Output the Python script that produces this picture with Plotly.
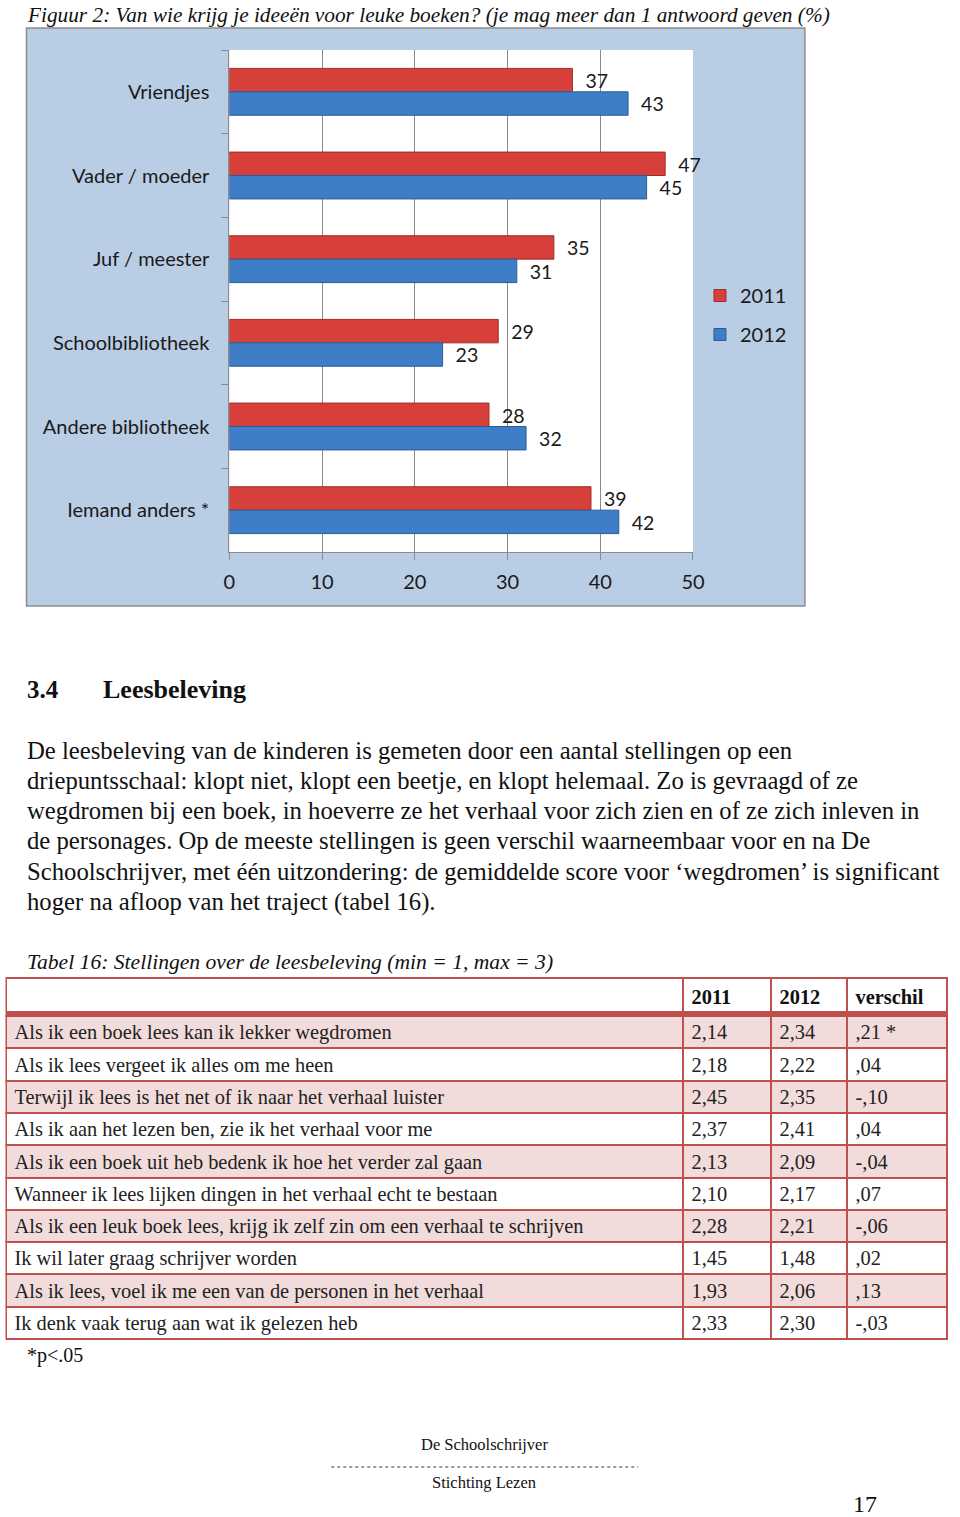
import plotly.graph_objects as go

W, H = 960, 1517

# data figuur 2
bronnen = ["Vriendjes", "Vader / moeder", "Juf / meester", "Schoolbibliotheek",
           "Andere bibliotheek", "Iemand anders *"]
perc_2011 = [37, 47, 35, 29, 28, 39]
perc_2012 = [43, 45, 31, 23, 32, 42]
x_ticks = [0, 10, 20, 30, 40, 50]

# data tabel 16
stellingen = [
    "Als ik een boek lees kan ik lekker wegdromen",
    "Als ik lees vergeet ik alles om me heen",
    "Terwijl ik lees is het net of ik naar het verhaal luister",
    "Als ik aan het lezen ben, zie ik het verhaal voor me",
    "Als ik een boek uit heb bedenk ik hoe het verder zal gaan",
    "Wanneer ik lees lijken dingen in het verhaal echt te bestaan",
    "Als ik een leuk boek lees, krijg ik zelf zin om een verhaal te schrijven",
    "Ik wil later graag schrijver worden",
    "Als ik lees, voel ik me een van de personen in het verhaal",
    "Ik denk vaak terug aan wat ik gelezen heb",
]
score_2011 = [2.14, 2.18, 2.45, 2.37, 2.13, 2.10, 2.28, 1.45, 1.93, 2.33]
score_2012 = [2.34, 2.22, 2.35, 2.41, 2.09, 2.17, 2.21, 1.48, 2.06, 2.30]
verschil = [0.21, 0.04, -0.10, 0.04, -0.04, 0.07, -0.06, 0.02, 0.13, -0.03]
significant = [True, False, False, False, False, False, False, False, False, False]

paragraaf = [
    "De leesbeleving van de kinderen is gemeten door een aantal stellingen op een",
    "driepuntsschaal: klopt niet, klopt een beetje, en klopt helemaal. Zo is gevraagd of ze",
    "wegdromen bij een boek, in hoeverre ze het verhaal voor zich zien en of ze zich inleven in",
    "de personages. Op de meeste stellingen is geen verschil waarneembaar voor en na De",
    "Schoolschrijver, met één uitzondering: de gemiddelde score voor ‘wegdromen’ is significant",
    "hoger na afloop van het traject (tabel 16).",
]

SANS = "Lato"
SERIF = "Liberation Serif"
RED = "#d63f3a"
BLUE = "#3d7ec7"
ROSE = "#c0504d"


def px(x):
    # gemeten pixelpositie -> paper-coordinaat (kleine horizontale correctie)
    return min(max((x - 5.5) / 0.982 / W, 0), 1)


def py(y):
    return min(max(1 - y / H, 0), 1)


def komma(v):
    return f"{v:.2f}".replace(".", ",")


def verschil_txt(v, sig):
    s = f"{abs(v):.2f}".replace("0.", ",")
    if v < 0:
        s = "-" + s
    if sig:
        s += " *"
    return s


fig = go.Figure()

fig.add_trace(go.Bar(
    name="2011", legendgroup="a", y=bronnen, x=perc_2011, orientation="h",
    marker=dict(color=RED, line=dict(color="#a02c28", width=1)),
    text=perc_2011, textposition="outside", texttemplate="  %{x}",
    textfont=dict(family=SANS, size=20, color="#1a1a1a"), cliponaxis=False,
))
fig.add_trace(go.Bar(
    name="2012", legendgroup="b", y=bronnen, x=perc_2012, orientation="h",
    marker=dict(color=BLUE, line=dict(color="#2b5c96", width=1)),
    text=perc_2012, textposition="outside", texttemplate="  %{x}",
    textfont=dict(family=SANS, size=20, color="#1a1a1a"), cliponaxis=False,
))

# tabel
rij_kleur = ["#f2dcdb" if i % 2 == 0 else "white" for i in range(len(stellingen))]
fig.add_trace(go.Table(
    domain=dict(x=[px(6), px(954)], y=[0, py(978)]),
    columnwidth=[677, 88, 76, 100],
    header=dict(
        values=["", "<b>2011</b>", "<b>2012</b>", "<b>verschil</b>"],
        fill_color="white", line=dict(color=ROSE, width=2),
        font=dict(family=SERIF, size=20.4, color="#111"), align="left", height=35,
    ),
    cells=dict(
        values=[stellingen,
                [komma(v) for v in score_2011],
                [komma(v) for v in score_2012],
                [verschil_txt(v, s) for v, s in zip(verschil, significant)]],
        fill_color=[rij_kleur] * 4, line=dict(color=ROSE, width=2),
        font=dict(family=SERIF, size=20.4, color="#222"), align="left", height=32.3,
    ),
))

fig.update_layout(
    width=W, height=H,
    margin=dict(l=0, r=0, t=0, b=0),
    paper_bgcolor="white", plot_bgcolor="white",
    barmode="group", bargap=0.44, bargroupgap=0.0,
    showlegend=True,
    legend=dict(x=px(700), y=py(276), xanchor="left", yanchor="top",
                bgcolor="rgba(0,0,0,0)", font=dict(family=SANS, size=20, color="#1a1a1a"),
                itemwidth=30, tracegroupgap=10),
    xaxis=dict(domain=[px(229), px(693)], range=[0, 50], tickvals=x_ticks,
               showgrid=True, gridcolor="#8a8a8a", gridwidth=1,
               showline=True, linecolor="#8a8a8a", ticks="outside", ticklen=7,
               tickcolor="#8a8a8a", zeroline=False,
               tickfont=dict(family=SANS, size=20, color="#1a1a1a"), ticklabelstandoff=5),
    yaxis=dict(domain=[py(552), py(50)], autorange="reversed",
               showline=True, linecolor="#8a8a8a", ticks="outside", ticklen=7,
               tickcolor="#8a8a8a", tickson="boundaries", showgrid=False,
               tickfont=dict(family=SANS, size=20, color="#1a1a1a"), ticklabelstandoff=15),
)

# blauw grafiekpaneel
fig.add_shape(type="rect", xref="paper", yref="paper",
              x0=px(26), x1=px(805), y0=py(606), y1=py(28),
              fillcolor="#b9cde5", line=dict(color="#8c8c8c", width=1.5), layer="below")
fig.add_shape(type="rect", xref="paper", yref="paper",
              x0=px(229), x1=px(693), y0=py(552), y1=py(50),
              fillcolor="white", line=dict(width=0), layer="below")

# dikke lijn onder tabelkop
fig.add_shape(type="line", xref="paper", yref="paper",
              x0=px(6), x1=px(954), y0=py(1013), y1=py(1013),
              line=dict(color=ROSE, width=4))
# stippellijn voettekst
fig.add_shape(type="line", xref="paper", yref="paper",
              x0=px(331), x1=px(638), y0=py(1467), y1=py(1467),
              line=dict(color="#333", width=1, dash="dot"))


def tekst(x, y, s, size, family=SERIF, anchor="left", color="#111"):
    fig.add_annotation(x=px(x), y=py(y), xref="paper", yref="paper", text=s,
                       showarrow=False, xanchor=anchor, yanchor="middle",
                       font=dict(family=family, size=size, color=color))


tekst(25, 15, "<i>Figuur 2: Van wie krijg je ideeën voor leuke boeken? (je mag meer dan 1 antwoord geven (%)</i>", 21.3)
tekst(25, 690, "<b>3.4</b>", 25)
tekst(101, 690, "<b>Leesbeleving</b>", 26)
for i, regel in enumerate(paragraaf):
    tekst(25, 750 + i * 30.3, regel, 24.7)
tekst(25, 962, "<i>Tabel 16: Stellingen over de leesbeleving (min = 1, max = 3)</i>", 21.6)
tekst(25, 1355, "*p<.05", 20)
tekst(484, 1444, "De Schoolschrijver", 16.5, anchor="center")
tekst(484, 1482, "Stichting Lezen", 16.5, anchor="center")
tekst(865, 1504, "17", 24, anchor="center")

fig.write_html("out.html", config={"displayModeBar": False},
               post_script="document.body.style.margin='0';document.body.style.overflow='hidden';")
